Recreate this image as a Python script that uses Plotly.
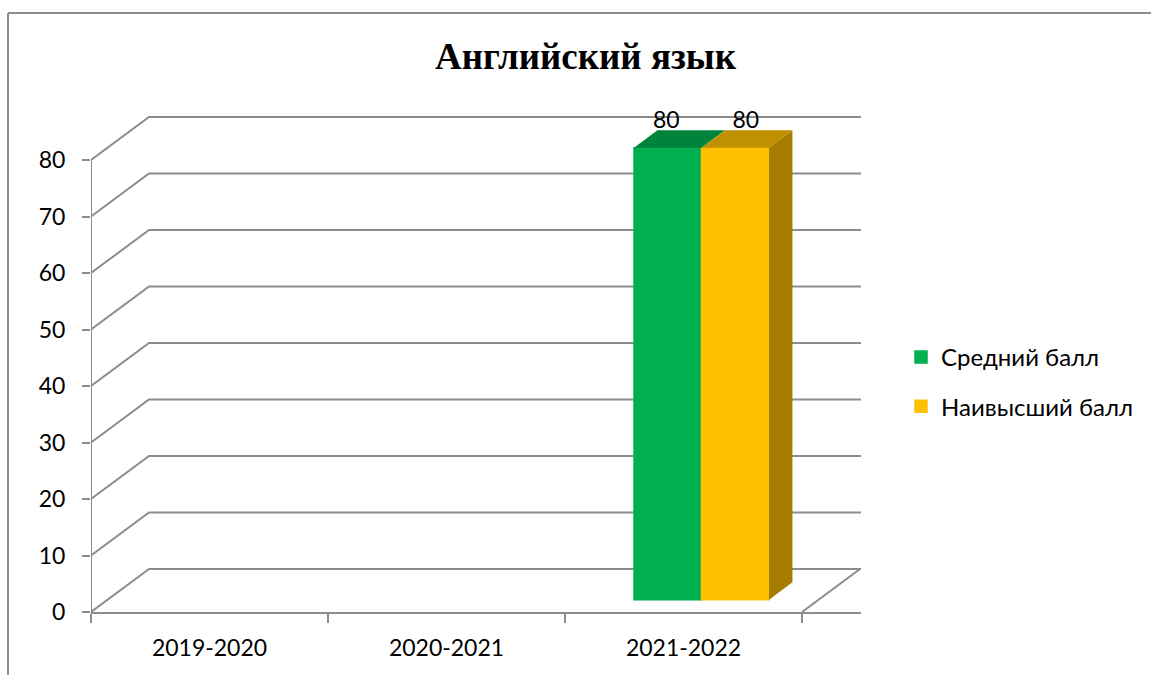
import plotly.graph_objects as go

title = "Английский язык"
years = ["2019-2020", "2020-2021", "2021-2022"]
avg_name = "Средний балл"
high_name = "Наивысший балл"
avg_values = [None, None, 80]
high_values = [None, None, 80]
y_ticks = [0, 10, 20, 30, 40, 50, 60, 70, 80]

GREY = "#8c8c8c"
W, H = 1151, 675
L, R, T, B = 91, 861, 110, 612
CAT_PX = (802 - 91) / 3
UNIT_PX = (612 - 160) / 80
DEPTH_X = 58 / CAT_PX
DEPTH_Y = 43 / UNIT_PX
BAR_W = 67.5 / CAT_PX
BAR_D0, BAR_D1 = 0.286, 0.69
x_end = (R - L) / CAT_PX
y_end = (B - T) / UNIT_PX


def proj(x, y, d):
    return x + d * DEPTH_X, y + d * DEPTH_Y


fig = go.Figure()

# wall, floor and axis frame, under every trace
def wall_line(points):
    path = "M " + " L ".join(f"{px},{py}" for px, py in points)
    fig.add_shape(type="path", path=path, xref="x", yref="y", layer="below",
                  line=dict(color=GREY, width=2))

for v in y_ticks:
    b = proj(0, v, 1)
    wall_line([proj(0, v, 0), b, (x_end, b[1])])
wall_line([proj(3, 0, 0), proj(3, 0, 1)])
wall_line([(0, 0), (0, y_ticks[-1])])

series = [
    (avg_name, avg_values, -0.5, "#00B050", "#00843C", None, 0),
    (high_name, high_values, 0.5, "#FFC000", "#BF9000", "#A67C00", 12 / CAT_PX),
]

for name, vals, off, front, top, side, label_dx in series:
    bx, by, bbase = [], [], []
    for i, v in enumerate(vals):
        if v is None:
            continue
        cx = i + 0.5 + off * BAR_W + 0.006
        x0, x1 = cx - BAR_W / 2, cx + BAR_W / 2
        fx, base = proj(cx, 0, BAR_D0)
        bx.append(fx); by.append(v); bbase.append(base)
        if side:
            p = [proj(x1, 0, BAR_D0), proj(x1, 0, BAR_D1), proj(x1, v, BAR_D1), proj(x1, v, BAR_D0)]
            fig.add_trace(go.Scatter(x=[q[0] for q in p], y=[q[1] for q in p], fill="toself", mode="lines",
                                     line=dict(width=0, color=side), fillcolor=side,
                                     showlegend=False, hoverinfo="skip", cliponaxis=False))
        p = [proj(x0, v, BAR_D0), proj(x1, v, BAR_D0), proj(x1, v, BAR_D1), proj(x0, v, BAR_D1)]
        fig.add_trace(go.Scatter(x=[q[0] for q in p], y=[q[1] for q in p], fill="toself", mode="lines",
                                 line=dict(width=0, color=top), fillcolor=top,
                                 showlegend=False, hoverinfo="skip", cliponaxis=False))
        lx, ly = proj(cx, v, BAR_D1)
        fig.add_trace(go.Scatter(x=[fx + label_dx - 1.5 / CAT_PX], y=[ly - 3 / UNIT_PX], mode="text", text=[str(v)],
                                 textposition="top center",
                                 textfont=dict(family="Lato", size=23, color="black"),
                                 showlegend=False, hoverinfo="skip", cliponaxis=False))
    fig.add_trace(go.Bar(x=bx, y=by, base=bbase, width=BAR_W, name=name, legendgroup=name,
                         marker=dict(color=front, line=dict(width=1.5, color=front))))

# outer chart frame
fig.add_shape(type="line", xref="paper", yref="paper", x0=(8 - L) / (R - L), x1=(W - L) / (R - L),
              y0=(B - 13) / (B - T), y1=(B - 13) / (B - T), line=dict(color=GREY, width=2))
fig.add_shape(type="line", xref="paper", yref="paper", x0=(8 - L) / (R - L), x1=(8 - L) / (R - L),
              y0=(B - 13) / (B - T), y1=(B - H) / (B - T), line=dict(color=GREY, width=2))

fig.update_layout(
    width=W, height=H, margin=dict(l=L, r=W - R, t=T, b=H - B),
    paper_bgcolor="white", plot_bgcolor="rgba(0,0,0,0)",
    font=dict(family="Lato", size=23, color="black"),
    title=dict(text=title, x=585.5 / W, xanchor="center", y=1 - 56 / H, yanchor="middle",
               font=dict(family="Liberation Serif", size=37, color="black", weight="bold")),
    barmode="overlay", showlegend=True,
    legend=dict(x=(901 - L) / (R - L), xanchor="left", y=(B - 382) / (B - T), yanchor="middle",
                tracegroupgap=15, font=dict(family="Lato", size=24), bgcolor="rgba(0,0,0,0)",
                traceorder="grouped", itemwidth=30),
    xaxis=dict(range=[0, x_end], tickvals=[0.5, 1.5, 2.5], ticktext=years, ticks="",
               showgrid=False, zeroline=False, showline=True, linecolor=GREY, linewidth=2,
               ticklabelstandoff=14, tickfont=dict(family="Lato", size=23),
               minor=dict(tickvals=[0, 1, 2, 3], ticks="outside", ticklen=9, tickwidth=1.5, tickcolor=GREY)),
    yaxis=dict(range=[0, y_end], tickvals=y_ticks, ticks="outside", ticklen=8, tickwidth=1.5, tickcolor=GREY,
               showgrid=False, zeroline=False, showline=False, ticklabelstandoff=12,
               tickfont=dict(family="Lato", size=23)),
)
fig.write_html("out.html", config=dict(displayModeBar=False), post_script="document.body.style.margin='0';")
